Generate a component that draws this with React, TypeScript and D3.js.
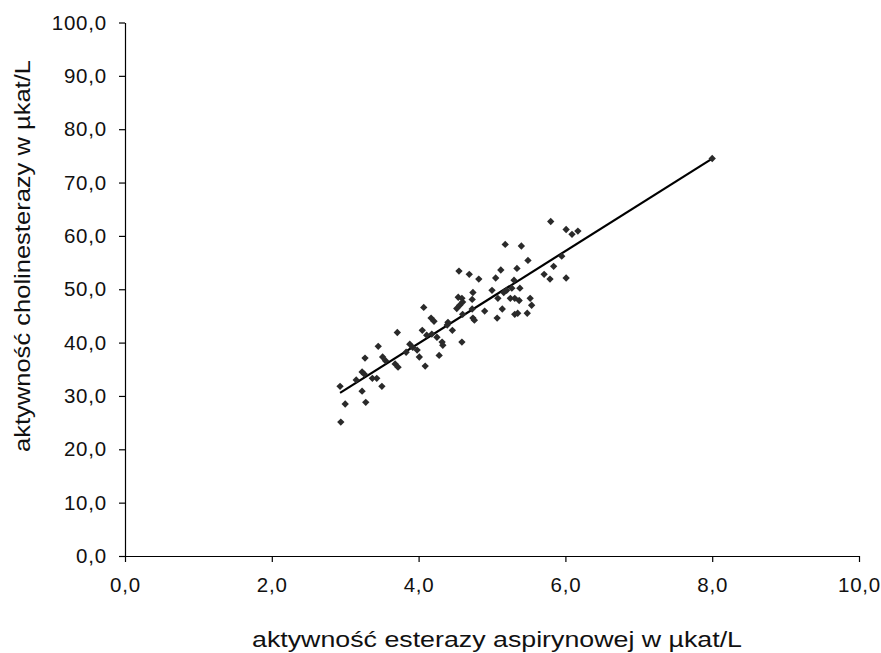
import * as d3 from "d3";
import { useEffect, useRef } from "react";

// aspirin esterase activity (x) vs cholinesterase activity (y), µkat/L
const esteraseX = [
  2.94, 3.0, 3.28, 2.93, 3.23, 3.15, 3.37, 3.43, 3.5, 3.23, 3.26, 3.27, 3.45,
  3.51, 3.55, 3.68, 3.72, 3.71, 3.83, 3.88, 3.92, 3.98, 4.01, 4.05, 4.07, 4.09,
  4.11, 4.18, 4.25, 4.17, 4.21, 4.32, 4.28, 4.33, 4.4, 4.46, 4.59, 4.39, 4.55,
  4.69, 4.82, 4.74, 4.54, 4.59, 4.6, 4.56, 4.52, 4.73, 4.73, 4.9, 4.6, 4.74,
  4.76, 5.0, 5.05, 5.08, 5.07, 5.12, 5.14, 5.16, 5.2, 5.27, 5.25, 5.31, 5.37,
  5.38, 5.3, 5.34, 5.31, 5.35, 5.48, 5.52, 5.54, 5.49, 5.18, 5.4, 5.71, 5.79,
  5.84, 5.95, 6.01, 5.8, 6.01, 6.09, 6.17, 8.0,
];
const cholinesteraseY = [
  25.1, 28.5, 28.8, 31.8, 30.9, 33.0, 33.3, 33.3, 31.8, 34.5, 34.1, 37.1, 39.3,
  37.3, 36.6, 36.0, 35.4, 41.9, 38.2, 39.7, 39.1, 38.6, 37.3, 42.3, 46.6, 35.6,
  41.4, 41.6, 41.0, 44.6, 44.0, 40.1, 37.6, 39.5, 43.8, 42.3, 40.1, 43.3, 53.4,
  52.8, 51.9, 49.4, 48.5, 48.3, 47.6, 47.0, 46.4, 48.1, 46.3, 45.9, 45.3, 44.6,
  44.2, 49.8, 52.1, 48.3, 44.6, 53.6, 46.3, 49.4, 49.8, 50.2, 48.3, 48.3, 47.9,
  50.2, 51.7, 53.9, 45.3, 45.5, 45.5, 48.3, 47.0, 55.4, 58.4, 58.1, 52.8, 51.9,
  54.3, 56.2, 52.1, 62.7, 61.2, 60.3, 60.9, 74.5,
];

// trend line: y = intercept + slope * x
const trendIntercept = 5.2;
const trendSlope = 8.66;

const xTicks = [0, 2, 4, 6, 8, 10];
const yTicks = [0, 10, 20, 30, 40, 50, 60, 70, 80, 90, 100];

const xTitle = "aktywność esterazy aspirynowej w \u00b5kat/L";
const yTitle = "aktywność cholinesterazy w  \u00b5kat/L";

const fmt = (v: number) => v.toFixed(1).replace(".", ",");

const W = 881;
const H = 653;
const margin = { left: 125, right: 22, top: 22.5, bottom: 97 };

const drawChart = (target: any) => {
  const root = d3.select(target);
  root.selectAll("svg").remove();

  const svg = root
    .append("svg")
    .attr("width", W)
    .attr("height", H)
    .style("display", "block")
    .style("font-family", "'Liberation Sans', Arial, sans-serif");

  const x = d3
    .scaleLinear()
    .domain([0, 10])
    .range([margin.left, W - margin.right]);
  const y = d3
    .scaleLinear()
    .domain([0, 100])
    .range([H - margin.bottom, margin.top]);

  // axes
  const xAxis = svg
    .append("g")
    .attr("transform", `translate(0,${y(0)})`)
    .call(
      d3
        .axisBottom(x)
        .tickValues(xTicks)
        .tickFormat((d) => fmt(d as number))
        .tickSize(6)
        .tickSizeOuter(0)
        .tickPadding(15)
    );
  const yAxis = svg
    .append("g")
    .attr("transform", `translate(${x(0)},0)`)
    .call(
      d3
        .axisLeft(y)
        .tickValues(yTicks)
        .tickFormat((d) => fmt(d as number))
        .tickSize(6)
        .tickSizeOuter(0)
        .tickPadding(12)
    );
  [xAxis, yAxis].forEach((g) => {
    g.selectAll("path,line").attr("stroke", "#000").attr("stroke-width", 1.2);
    g.selectAll("text")
      .attr("fill", "#111")
      .style("font-size", "20.5px")
      .style("letter-spacing", "0.8px");
  });

  // trend line
  const xMin = d3.min(esteraseX) as number;
  const xMax = d3.max(esteraseX) as number;
  const line = d3
    .line<number>()
    .x((d) => x(d))
    .y((d) => y(trendIntercept + trendSlope * d));
  svg
    .append("path")
    .attr("d", line([xMin, xMax]))
    .attr("fill", "none")
    .attr("stroke", "#000")
    .attr("stroke-width", 2.2);

  // points
  const marker = d3.symbol().type(d3.symbolSquare).size(27);
  svg
    .append("g")
    .selectAll("path")
    .data(d3.range(esteraseX.length))
    .join("path")
    .attr("d", marker)
    .attr(
      "transform",
      (i) => `translate(${x(esteraseX[i])},${y(cholinesteraseY[i])}) rotate(45)`
    )
    .attr("fill", "#2a2a2a");

  // titles
  svg
    .append("text")
    .attr("x", 497)
    .attr("y", 647)
    .attr("text-anchor", "middle")
    .attr("textLength", 490)
    .attr("lengthAdjust", "spacingAndGlyphs")
    .attr("fill", "#111")
    .style("font-size", "21.5px")
    .text(xTitle);
  svg
    .append("text")
    .attr("transform", `translate(30,256) rotate(-90)`)
    .attr("text-anchor", "middle")
    .attr("textLength", 392)
    .attr("lengthAdjust", "spacingAndGlyphs")
    .attr("fill", "#111")
    .style("font-size", "21.5px")
    .text(yTitle);
};

const App = () => {
  const ref = useRef<HTMLDivElement>(null);
  useEffect(() => {
    document.body.style.margin = "0";
    document.body.style.overflow = "hidden";
    if (ref.current) drawChart(ref.current);
  }, []);
  return <div ref={ref} style={{ width: W, height: H }} />;
};

export default App;
